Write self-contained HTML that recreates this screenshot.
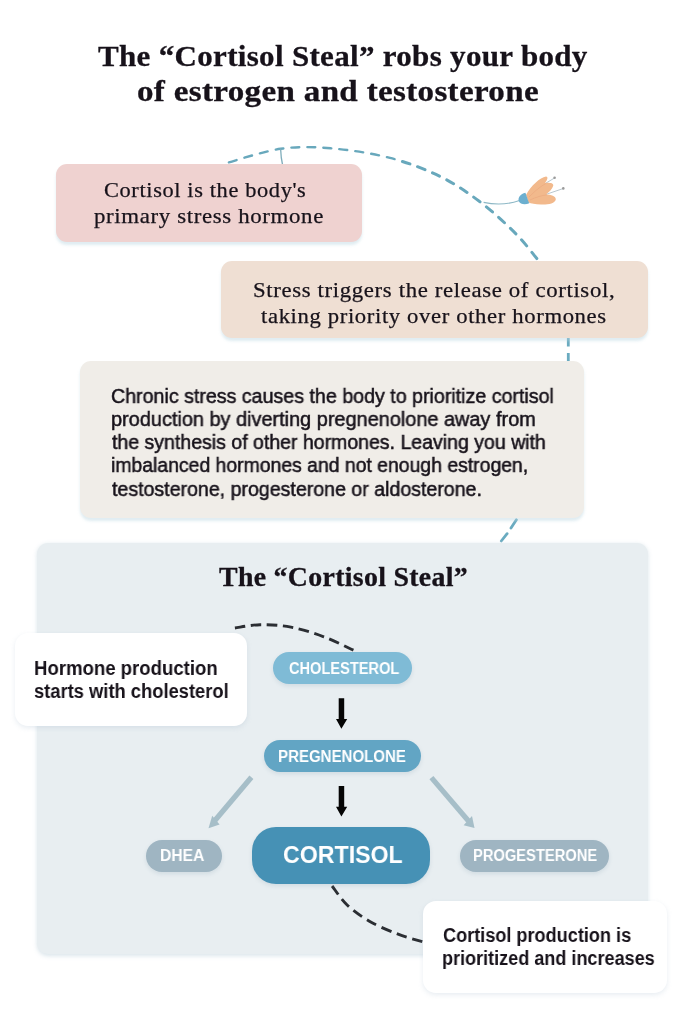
<!DOCTYPE html>
<html lang="en">
<head>
<meta charset="utf-8">
<title>The “Cortisol Steal” robs your body of estrogen and testosterone</title>
<style>
  html, body { margin: 0; padding: 0; background: #ffffff; }
  body { width: 683px; height: 1024px; position: relative; overflow: hidden;
         font-family: "Liberation Sans", sans-serif; color: #17121a; }
  .abs { position: absolute; box-sizing: border-box; }
  .serif { font-family: "Liberation Serif", serif; }
  .sans { font-family: "Liberation Sans", sans-serif; }
  .ln { position: absolute; display: block; white-space: nowrap; transform-origin: 0 50%; color: #17121a; z-index: 6; will-change: transform; }
  h1, h2, p { margin: 0; font-size: inherit; font-weight: inherit; }
  .card { position: absolute; box-sizing: border-box; border-radius: 11px;
          box-shadow: 0 3px 3px rgba(185,212,224,0.45); z-index: 2; }
  .c1 { left: 56px; top: 164px; width: 306px; height: 77.5px; background: #efd2d0; }
  .c2 { left: 221px; top: 261px; width: 427px; height: 77px; background: #efdfd3; }
  .c3 { left: 80.3px; top: 361.3px; width: 503.4px; height: 156.3px; background: #f0ede8; }
  .panel { left: 36.8px; top: 542.7px; width: 611.2px; height: 411px; background: #e8eef1; border-radius: 11px; z-index: 2; box-shadow: 0 1.5px 4px 0 rgba(212,224,231,0.85); }
  .note { position: absolute; box-sizing: border-box; background: #ffffff; border-radius: 13px;
          box-shadow: 0 2px 5px rgba(150,175,195,0.22); z-index: 5; }
  .n1 { left: 14.7px; top: 633.4px; width: 232px; height: 93px; }
  .n2 { left: 423.2px; top: 900.6px; width: 243.4px; height: 92px; }
  .pill { position: absolute; box-sizing: border-box; z-index: 4;
          box-shadow: 0 2px 4px rgba(120,150,170,0.20); }
  .chol { left: 273px; top: 652px; width: 139px; height: 32px; border-radius: 16px; background: #7fbbd6; }
  .preg { left: 264px; top: 740px; width: 157px; height: 32px; border-radius: 16px; background: #62a5c4; }
  .dhea { left: 146px; top: 840px; width: 76px; height: 32px; border-radius: 16px; background: #9fb5c2; }
  .prog { left: 460px; top: 840px; width: 149px; height: 32px; border-radius: 16px; background: #9fb5c2; }
  .cort { left: 252px; top: 827px; width: 178px; height: 57px; border-radius: 24px; background: #4691b5; }
  svg.ov { position: absolute; left: 0; top: 0; width: 683px; height: 1024px; pointer-events: none; }
</style>
</head>
<body>
<h1><span class="ln serif" style="left:97.74px;top:41px;font-size:30.4px;line-height:30.4px;transform:scaleX(1.0209);font-weight:700;-webkit-text-stroke:0.3px #17121a;letter-spacing:0.3px;">The “Cortisol Steal” robs your body</span><span class="ln serif" style="left:137.41px;top:76px;font-size:30.4px;line-height:30.4px;transform:scaleX(1.0882);font-weight:700;-webkit-text-stroke:0.3px #17121a;letter-spacing:0.3px;">of estrogen and testosterone</span></h1>

<svg class="ov" style="z-index:1" viewBox="0 0 683 1024">
  <defs>
    <clipPath id="clipL"><rect x="0" y="0" width="400" height="300"/></clipPath>
    <clipPath id="clipR"><rect x="400" y="0" width="283" height="300"/></clipPath>
  </defs>
  <path d="M227.9 162.2 C236.7 159.9 263.5 150.8 280.6 148.4 C297.7 146.0 312.5 146.4 330.7 147.9 C348.9 149.4 371.8 152.8 390.0 157.5 C408.2 162.2 425.2 168.8 440.1 176.1 C455.0 183.4 467.1 191.7 479.6 201.1 C492.1 210.5 505.5 223.0 515.2 232.7 C524.9 242.4 533.9 254.7 537.6 259.1" fill="none" stroke="#68a8bc" stroke-width="2.4" stroke-dasharray="7.9 8.14" stroke-dashoffset="-1.2" stroke-linecap="round" transform="translate(0 0.4)" clip-path="url(#clipL)"/>
  <path d="M227.9 162.2 C236.7 159.9 263.5 150.8 280.6 148.4 C297.7 146.0 312.5 146.4 330.7 147.9 C348.9 149.4 371.8 152.8 390.0 157.5 C408.2 162.2 425.2 168.8 440.1 176.1 C455.0 183.4 467.1 191.7 479.6 201.1 C492.1 210.5 505.5 223.0 515.2 232.7 C524.9 242.4 533.9 254.7 537.6 259.1" fill="none" stroke="#68a8bc" stroke-width="3" stroke-dasharray="7.9 8.14" stroke-dashoffset="-1.2" stroke-linecap="round" transform="translate(0 0.4)" clip-path="url(#clipR)"/>
  <path d="M280.6 148.4 C280.8 154 281.4 160 282.6 165" fill="none" stroke="#7fadbb" stroke-width="1.3"/>
  <path d="M568.3 338 V346.4 M568.3 353 V361" fill="none" stroke="#6aabc0" stroke-width="2.8" />
  <path d="M516.4 519.8 L511 528.1 M507.1 533.7 L501.3 541" fill="none" stroke="#6aabc0" stroke-width="2.8" stroke-linecap="round"/>
  <g id="flower">
    <path d="M483.6 202.4 C495 204.9 508 204.5 519.5 200.6" fill="none" stroke="#8db8c6" stroke-width="1.1"/>
    <path d="M545.1 183.6 L554.2 178.2 M546 194.4 L563 188.6" fill="none" stroke="#a7b9c1" stroke-width="0.8"/>
    <circle cx="554.6" cy="177.8" r="1.3" fill="#9a9a9a"/>
    <circle cx="563.3" cy="188.4" r="1.3" fill="#9a9a9a"/>
    <path d="M526 195 C531 186 540 177.500 546 176.600 C548.500 176.800 547.500 180 545 183 C549 182.500 553.500 183 553.300 185.500 C552.500 189 549 192 546 194.500 C551 194.500 556 196 555.800 199.500 C555 203.500 548 204.800 541 204.500 C535 204.300 531 203.500 528.500 202.500 Z" fill="#f2b98c"/>
    <path d="M529 197 C535 191 541 186 546 183.500 M530 200 C536 197 542 195.500 547 194.800" fill="none" stroke="#eba77e" stroke-width="0.9" opacity="0.7"/>
    <path d="M525.4 192.800 C520.500 193.800 517.700 197.800 518.800 201.200 C520.100 204.400 525.200 205 529.300 203.200 C527.800 200 526.700 196 525.400 192.800 Z" fill="#6cafcf"/>
  </g>
</svg>

<div class="card c1"></div>
<p><span class="ln serif" style="left:104.22px;top:180px;font-size:21.4px;line-height:21.4px;transform:scaleX(1.0460);-webkit-text-stroke:0.25px #17121a;letter-spacing:0.6px;">Cortisol is the body's</span><span class="ln serif" style="left:93.73px;top:206px;font-size:21.4px;line-height:21.4px;transform:scaleX(1.0685);-webkit-text-stroke:0.25px #17121a;letter-spacing:0.6px;">primary stress hormone</span></p>
<div class="card c2"></div>
<p><span class="ln serif" style="left:252.67px;top:280px;font-size:21.4px;line-height:21.4px;transform:scaleX(1.0653);-webkit-text-stroke:0.25px #17121a;letter-spacing:0.6px;">Stress triggers the release of cortisol,</span><span class="ln serif" style="left:261.40px;top:306px;font-size:21.4px;line-height:21.4px;transform:scaleX(1.0594);-webkit-text-stroke:0.25px #17121a;letter-spacing:0.6px;">taking priority over other hormones</span></p>
<div class="card c3"></div>
<p><span class="ln sans" style="left:110.96px;top:386px;font-size:20px;line-height:20px;transform:scaleX(0.9813);-webkit-text-stroke:0.5px #17121a;">Chronic stress causes the body to prioritize cortisol</span><span class="ln sans" style="left:110.71px;top:409px;font-size:20px;line-height:20px;transform:scaleX(0.9949);-webkit-text-stroke:0.5px #17121a;">production by diverting pregnenolone away from</span><span class="ln sans" style="left:111.70px;top:432px;font-size:20px;line-height:20px;transform:scaleX(0.9755);-webkit-text-stroke:0.5px #17121a;">the synthesis of other hormones. Leaving you with</span><span class="ln sans" style="left:110.73px;top:455px;font-size:20px;line-height:20px;transform:scaleX(0.9695);-webkit-text-stroke:0.5px #17121a;">imbalanced hormones and not enough estrogen,</span><span class="ln sans" style="left:111.70px;top:479px;font-size:20px;line-height:20px;transform:scaleX(0.9785);-webkit-text-stroke:0.5px #17121a;">testosterone, progesterone or aldosterone.</span></p>

<div class="abs panel"></div>
<h2><span class="ln serif" style="left:219.04px;top:564px;font-size:27px;line-height:27px;transform:scaleX(1.0311);font-weight:700;-webkit-text-stroke:0.3px #17121a;letter-spacing:0.3px;">The “Cortisol Steal”</span></h2>

<svg class="ov" style="z-index:3" viewBox="0 0 683 1024">
  <path d="M234.9 628.0 C239.1 627.5 250.8 624.9 260.1 624.7 C269.4 624.6 280.3 625.1 290.9 627.1 C301.5 629.1 313.4 632.9 323.8 636.8 C334.2 640.6 348.6 648.0 353.5 650.2" fill="none" stroke="#2b2e33" stroke-width="2.9" stroke-dasharray="10.5 5.6"/>
  <path d="M332.1 886.0 C334.6 889.1 340.7 898.9 346.9 904.8 C353.1 910.7 360.9 916.3 369.4 921.2 C377.9 926.1 389.3 930.8 398.1 934.2 C406.9 937.6 418.3 940.5 422.3 941.7" fill="none" stroke="#2b2e33" stroke-width="2.9" stroke-dasharray="10.5 5.87"/>
  <path d="M338.7 698.3 H344.200 V719 H347.200 L341.400 728.700 L336 719 H338.700 Z" fill="#050505"/>
  <path d="M338.7 786.1 H344.200 V806.800 H347.200 L341.400 816.500 L336 806.800 H338.700 Z" fill="#050505"/>
  <path d="M251.4 777.3 L214.5 821" stroke="#a6bec8" stroke-width="5.2" fill="none"/>
  <path d="M208.5 828.2 L212.200 815.800 L219.600 824.500 Z" fill="#a6bec8"/>
  <path d="M431.4 777.6 L468.500 821" stroke="#a6bec8" stroke-width="5.2" fill="none"/>
  <path d="M474.5 828 L463.600 825.200 L472 816 Z" fill="#a6bec8"/>
</svg>

<div class="pill chol"></div><span class="ln sans" style="left:288.62px;top:661px;font-size:16px;line-height:16px;transform:scaleX(0.9127);font-weight:700;color:#ffffff;">CHOLESTEROL</span>
<div class="pill preg"></div><span class="ln sans" style="left:277.76px;top:749px;font-size:16px;line-height:16px;transform:scaleX(0.9405);font-weight:700;color:#ffffff;">PREGNENOLONE</span>
<div class="pill dhea"></div><span class="ln sans" style="left:159.82px;top:848px;font-size:16px;line-height:16px;transform:scaleX(0.9795);font-weight:700;color:#ffffff;">DHEA</span>
<div class="pill prog"></div><span class="ln sans" style="left:473.08px;top:848px;font-size:16px;line-height:16px;transform:scaleX(0.9184);font-weight:700;color:#ffffff;">PROGESTERONE</span>
<div class="pill cort"></div><span class="ln sans" style="left:282.95px;top:843px;font-size:24.5px;line-height:24.5px;transform:scaleX(0.9459);font-weight:700;color:#ffffff;">CORTISOL</span>

<div class="note n1"></div>
<p><span class="ln sans" style="left:33.84px;top:658px;font-size:20px;line-height:20px;transform:scaleX(0.9291);font-weight:700;">Hormone production</span><span class="ln sans" style="left:34.31px;top:681px;font-size:20px;line-height:20px;transform:scaleX(0.9170);font-weight:700;">starts with cholesterol</span></p>
<div class="note n2"></div>
<p><span class="ln sans" style="left:442.52px;top:925px;font-size:20px;line-height:20px;transform:scaleX(0.9057);font-weight:700;">Cortisol production is</span><span class="ln sans" style="left:442.07px;top:948px;font-size:20px;line-height:20px;transform:scaleX(0.9028);font-weight:700;">prioritized and increases</span></p>
</body>
</html>
